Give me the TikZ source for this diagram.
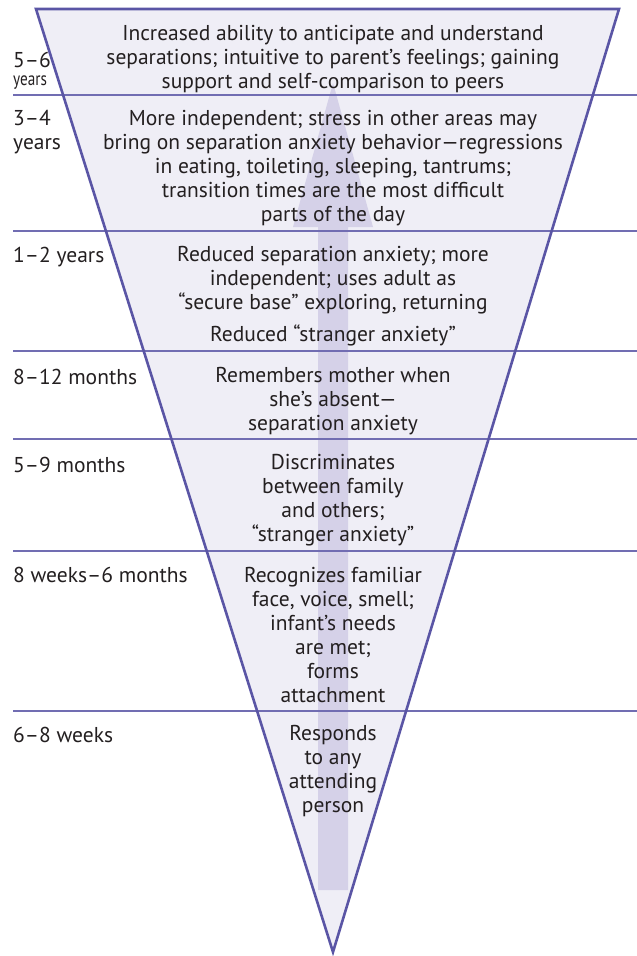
\documentclass[tikz,border=0pt]{standalone}
\usepackage{fontspec}
\setmainfont{PT Sans}
\definecolor{funnelfill}{HTML}{EFEEF6}
\definecolor{arrowfill}{HTML}{D5D1E8}
\definecolor{edgecol}{HTML}{5A55A5}
\definecolor{rulecol}{HTML}{716DB2}
\definecolor{ink}{HTML}{231F20}
\begin{document}
\begin{tikzpicture}[x=1pt,y=-1pt,
  desc/.style={align=center, text=ink, font=\fontsize{21.5}{24}\selectfont, inner sep=0pt},
  age/.style={anchor=west, text=ink, font=\fontsize{21.5}{24.5}\selectfont, inner sep=0pt, align=left},
  bandrule/.style={draw=rulecol, line width=1.2pt}]
\useasboundingbox (0,0) rectangle (637,956);

% funnel body
\coordinate (tl) at (36,9);
\coordinate (tr) at (619,9);
\coordinate (tip) at (333,952);
\fill[funnelfill] (tl) -- (tr) -- (tip) -- cycle;

% broad upward arrow behind the text
\fill[arrowfill] (318,890) -- (318,227) -- (293,227) -- (333,83) -- (373,227)
  -- (348,227) -- (348,890) -- cycle;

% rules between the age bands
\foreach \y in {95,231,351,439,551,711}
  \draw[bandrule] (13,\y) -- (637,\y);

% funnel outline
\draw[edgecol, line width=2.6pt, line join=miter] (tl) -- (tr) -- (tip) -- cycle;

% descriptions
\node[desc] (t1) at (333,59) {Increased ability to anticipate and understand\\separations; intuitive to parent’s feelings; gaining\\support and self-comparison to peers};
\node[desc] (t2) at (333,168) {More independent; stress in other areas may\\bring on separation anxiety behavior—regressions\\in eating, toileting, sleeping, tantrums;\\transition times are the most difficult\\parts of the day};
\node[desc] (t3) at (333,280) {Reduced separation anxiety; more\\independent; uses adult as\\“secure base” exploring, returning};
\node[desc] (t3b) at (333,335) {Reduced “stranger anxiety”};
\node[desc] (t4) at (333,401) {Remembers mother when\\she’s absent—\\separation anxiety};
\node[desc] (t5) at (333,500) {Discriminates\\between family\\and others;\\“stranger anxiety”};
\node[desc] (t6) at (333,635) {Recognizes familiar\\face, voice, smell;\\infant’s needs\\are met;\\forms\\attachment};
\node[desc] (t7) at (333,771) {Responds\\to any\\attending\\person};

% age labels
\node[age] (l1a) at (13,60) {5–6};
\node[age, font=\fontsize{19}{20}\selectfont] (l1b) at (13,83) {\scalebox{0.8}[1]{years}};
\node[age] (l2) at (13,132) {3–4\\years};
\node[age] (l3) at (13,257) {1–2 years};
\node[age] (l4) at (13,377) {8–12 months};
\node[age] (l5) at (13,465) {5–9 months};
\node[age] (l6) at (13,575) {8 weeks–6 months};
\node[age] (l7) at (13,735) {6–8 weeks};
\end{tikzpicture}
\end{document}
